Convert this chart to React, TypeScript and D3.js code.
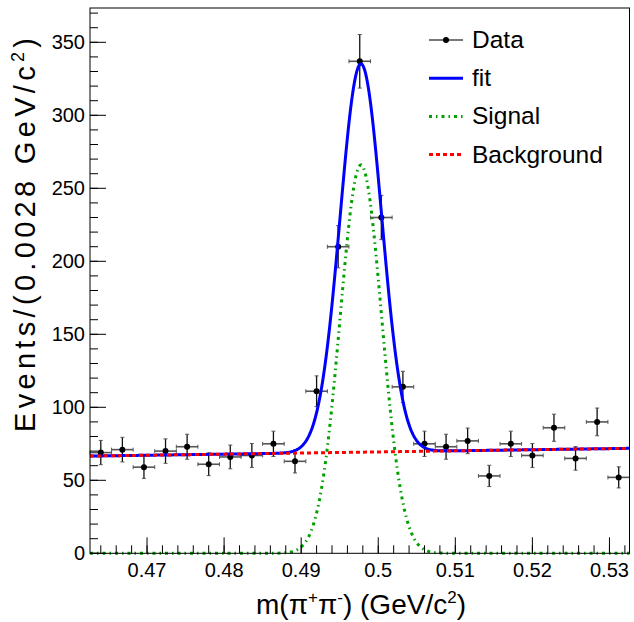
import * as d3 from "d3";

// bin centres (GeV/c^2), bin width 0.0028
const binCenters = [
  0.464, 0.4668, 0.4696, 0.4724, 0.4752, 0.478, 0.4808, 0.4836, 0.4864, 0.4892,
  0.492, 0.4948, 0.4976, 0.5004, 0.5032, 0.506, 0.5088, 0.5116, 0.5144, 0.5172,
  0.52, 0.5228, 0.5256, 0.5284, 0.5312,
];
const counts = [
  69, 71, 59, 70, 73, 61, 66, 67, 75, 63,
  111, 210, 337, 230, 114, 75, 73, 77, 53, 75,
  67, 86, 65, 90, 52,
];
const binWidth = 0.0028;

// fit parameters
const sigMean = 0.49775;
const sigSigma = 0.0027;
const sigPeak = 266;
const bgLeft = 66.6; // background at xMin
const bgRight = 71.9; // background at xMax

const xTicks = [0.47, 0.48, 0.49, 0.5, 0.51, 0.52, 0.53];
const xTickLabels = ["0.47", "0.48", "0.49", "0.5", "0.51", "0.52", "0.53"];
const yTicks = [0, 50, 100, 150, 200, 250, 300, 350];

const legendItems = [
  { label: "Data", kind: "data" },
  { label: "fit", kind: "fit" },
  { label: "Signal", kind: "signal" },
  { label: "Background", kind: "bg" },
];

const xMin = 0.4626;
const xMax = 0.5326;
const yMax = 373.5;

const font = "'Liberation Sans', Arial, Helvetica, sans-serif";
const blue = "#0000ff";
const green = "#00a000";
const red = "#ff0000";

function background(m: number) {
  return bgLeft + ((bgRight - bgLeft) * (m - xMin)) / (xMax - xMin);
}

function signal(m: number) {
  return sigPeak * Math.exp(-((m - sigMean) ** 2) / (2 * sigSigma * sigSigma));
}

export default function App() {
  const width = 634;
  const height = 622;
  const left = 90;
  const right = 629.5;
  const top = 8;
  const bottom = 553.3;

  const x = d3.scaleLinear().domain([xMin, xMax]).range([left, right]);
  const y = d3.scaleLinear().domain([0, yMax]).range([bottom, top]);

  const grid = d3.range(xMin, xMax + 1e-9, (xMax - xMin) / 700);

  const fitPath = d3
    .line<number>()
    .x((m) => x(m))
    .y((m) => y(signal(m) + background(m)))(grid);
  const sigPath = d3
    .line<number>()
    .x((m) => x(m))
    .y((m) => y(signal(m)))(grid);
  const bgPath = d3
    .line<number>()
    .x((m) => x(m))
    .y((m) => y(background(m)))(grid);

  const xMinor = d3.range(0.464, 0.5325, 0.002);
  const yMinor = d3.range(0, 371, 10);

  const legendX0 = 429;
  const legendX1 = 463;
  const legendTextX = 472;
  const legendY0 = 40;
  const legendStep = 38.2;

  return (
    <svg
      width={width}
      height={height}
      style={{ position: "absolute", left: 0, top: 0, background: "#fff" }}
      fontFamily={font}
    >
      <rect x={0} y={0} width={width} height={height} fill="#fff" />

      {/* data points */}
      <g>
        {binCenters.map((m, i) => {
          const n = counts[i];
          const err = Math.sqrt(n);
          const cx = x(m);
          const cy = y(n);
          const xl = x(m - binWidth / 2);
          const xr = x(m + binWidth / 2);
          const yt = y(n + err);
          const yb = y(n - err);
          return (
            <g key={i}>
              <line x1={xl} x2={xr} y1={cy} y2={cy} stroke="#555" strokeWidth={1.6} />
              <line x1={xl} x2={xl} y1={cy - 2} y2={cy + 2} stroke="#555" strokeWidth={1} />
              <line x1={xr} x2={xr} y1={cy - 2} y2={cy + 2} stroke="#555" strokeWidth={1} />
              <line x1={cx} x2={cx} y1={yt} y2={yb} stroke="#111" strokeWidth={1.3} />
              <line x1={cx - 2} x2={cx + 2} y1={yt} y2={yt} stroke="#555" strokeWidth={1} />
              <line x1={cx - 2} x2={cx + 2} y1={yb} y2={yb} stroke="#555" strokeWidth={1} />
              <circle cx={cx} cy={cy} r={3} fill="#000" />
            </g>
          );
        })}
      </g>

      {/* curves */}
      <path d={fitPath ?? ""} fill="none" stroke={blue} strokeWidth={3} />
      <path
        d={sigPath ?? ""}
        fill="none"
        stroke={green}
        strokeWidth={3}
        strokeDasharray="3 4 1.5 4"
      />
      <path d={bgPath ?? ""} fill="none" stroke={red} strokeWidth={3} strokeDasharray="4 3" />

      {/* frame */}
      <rect
        x={left}
        y={top}
        width={right - left}
        height={bottom - top}
        fill="none"
        stroke="#000"
        strokeWidth={1}
      />

      {/* ticks */}
      <g stroke="#000" strokeWidth={1}>
        {xMinor.map((m, i) => (
          <line key={`xm${i}`} x1={x(m)} x2={x(m)} y1={bottom} y2={bottom - 8} />
        ))}
        {xTicks.map((m, i) => (
          <line key={`xM${i}`} x1={x(m)} x2={x(m)} y1={bottom} y2={bottom - 16} />
        ))}
        {yMinor.map((v, i) => (
          <line key={`ym${i}`} x1={left} x2={left + 8} y1={y(v)} y2={y(v)} />
        ))}
        {yTicks.map((v, i) => (
          <line key={`yM${i}`} x1={left} x2={left + 16} y1={y(v)} y2={y(v)} />
        ))}
      </g>

      {/* tick labels */}
      <g fontSize={20} fill="#000">
        {xTicks.map((m, i) => (
          <text key={`xl${i}`} x={x(m)} y={577} textAnchor="middle">
            {xTickLabels[i]}
          </text>
        ))}
        {yTicks.map((v, i) => (
          <text key={`yl${i}`} x={85} y={y(v) + 7} textAnchor="end">
            {v}
          </text>
        ))}
      </g>

      {/* axis titles */}
      <text x={361} y={614} textAnchor="middle" fontSize={28} fill="#000">
        m(π<tspan dy={-11} fontSize={17}>+</tspan>
        <tspan dy={11}>π</tspan>
        <tspan dy={-11} fontSize={17}>-</tspan>
        <tspan dy={11}>) (GeV/c</tspan>
        <tspan dy={-11} fontSize={17}>2</tspan>
        <tspan dy={11}>)</tspan>
      </text>
      <text
        transform="translate(35,38) rotate(-90)"
        textAnchor="end"
        fontSize={29}
        fill="#000"
        textLength={394}
        lengthAdjust="spacing"
      >
        Events/(0.0028 GeV/c<tspan dy={-11} fontSize={18}>2</tspan>
        <tspan dy={11}>)</tspan>
      </text>

      {/* legend */}
      <g>
        {legendItems.map((item, i) => {
          const ly = legendY0 + i * legendStep;
          let sample;
          if (item.kind === "data") {
            sample = (
              <g>
                <line x1={legendX0} x2={legendX1} y1={ly} y2={ly} stroke="#777" strokeWidth={2} />
                <circle cx={(legendX0 + legendX1) / 2} cy={ly} r={3} fill="#000" />
              </g>
            );
          } else if (item.kind === "fit") {
            sample = (
              <line x1={legendX0} x2={legendX1} y1={ly} y2={ly} stroke={blue} strokeWidth={3} />
            );
          } else if (item.kind === "signal") {
            sample = (
              <line
                x1={legendX0}
                x2={legendX1}
                y1={ly}
                y2={ly}
                stroke={green}
                strokeWidth={3}
                strokeDasharray="3 4 1.5 4"
              />
            );
          } else {
            sample = (
              <line
                x1={legendX0}
                x2={legendX1}
                y1={ly}
                y2={ly}
                stroke={red}
                strokeWidth={3}
                strokeDasharray="4 3"
              />
            );
          }
          return (
            <g key={item.label}>
              {sample}
              <text x={legendTextX} y={ly + 8} fontSize={24.5} fill="#000">
                {item.label}
              </text>
            </g>
          );
        })}
      </g>
    </svg>
  );
}
